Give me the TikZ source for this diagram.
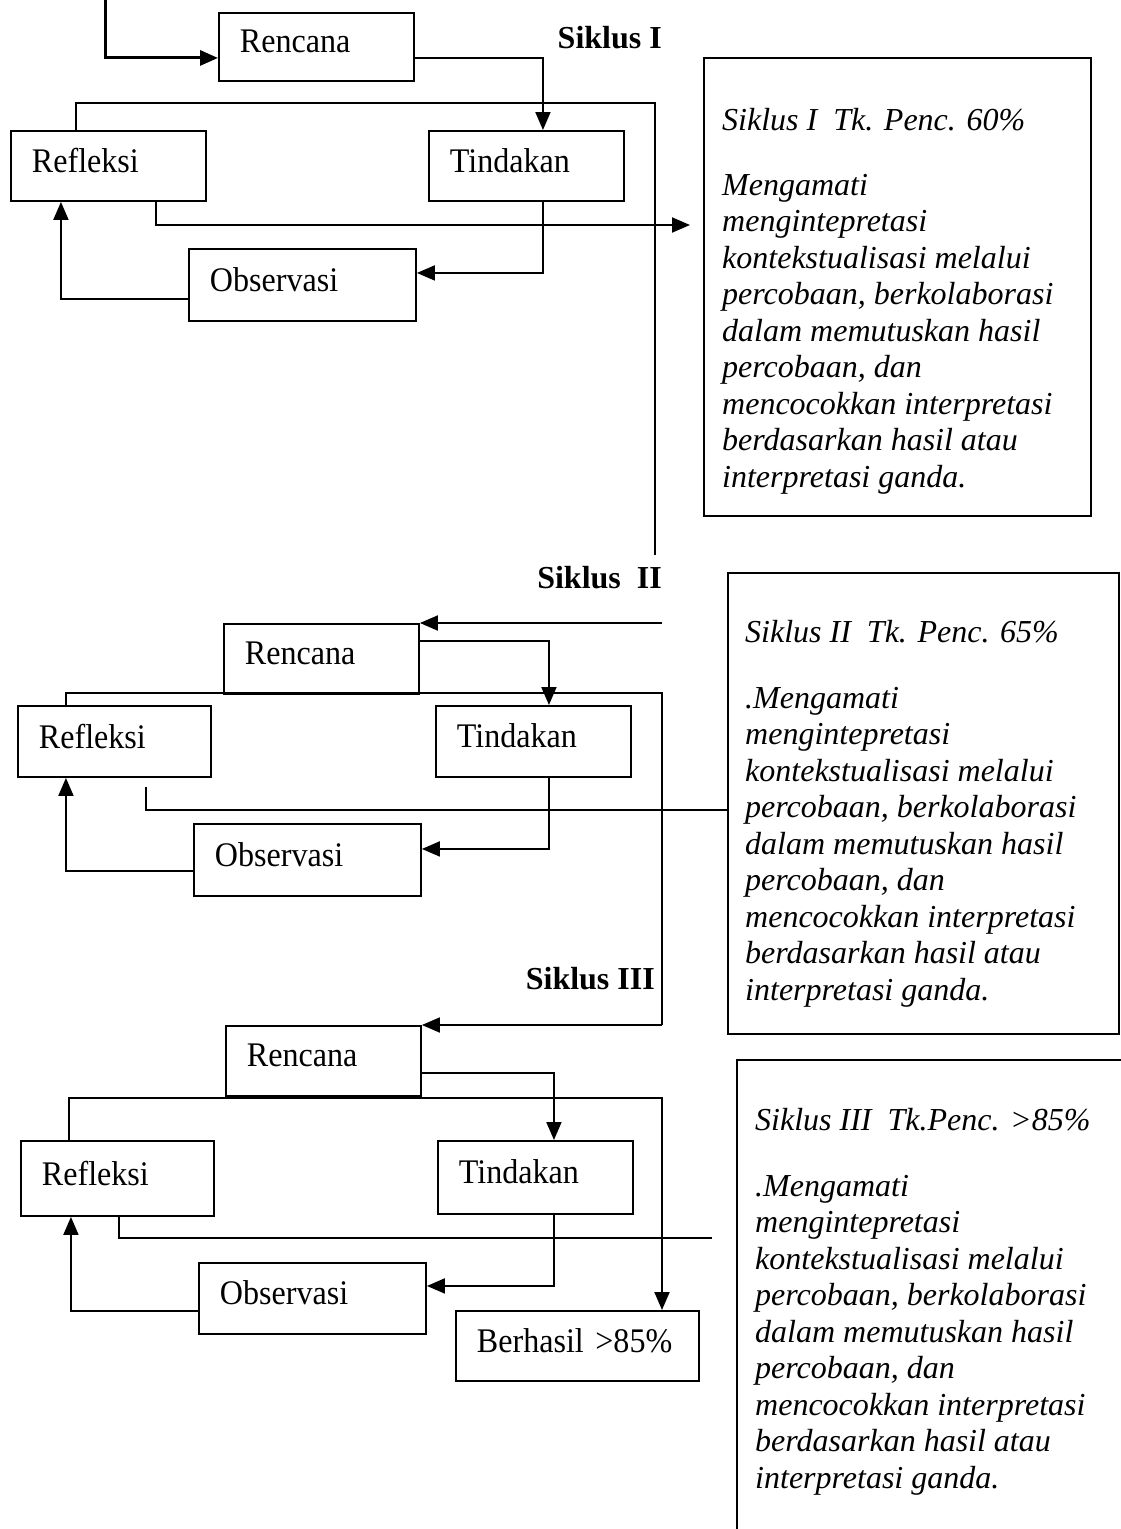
\documentclass[tikz,border=0pt]{standalone}
\usepackage{fontspec}
\setmainfont{Liberation Serif}
\newfontfamily\boxfont[FakeStretch=0.93]{Liberation Serif}
\usetikzlibrary{arrows.meta,calc}
\begin{document}
\begin{tikzpicture}[x=1pt,y=-1pt,
  every node/.style={font=\fontsize{32}{36.5}\selectfont},
  box/.style={draw, line width=1.9pt, inner xsep=21pt, inner ysep=0pt, align=left, anchor=north west,
    text depth=11pt, font=\fontsize{34.5}{38}\boxfont},
  tbox/.style={draw, line width=1.9pt, anchor=north west, inner sep=0pt},
  itext/.style={anchor=north west, inner sep=0pt, align=left, font=\fontsize{32}{36.5}\selectfont\itshape},
  lbl/.style={inner sep=0pt, font=\fontsize{32}{36.5}\selectfont\bfseries},
  conn/.style={line width=1.9pt},
  arr/.style={conn, -{Triangle[length=18pt,width=15pt]}}
]
\useasboundingbox (0,0) rectangle (1121,1529);

% ---------------- Siklus I ----------------
\node[lbl, anchor=base east] (s1) at (662,48) {Siklus I};
\node[box, text width=153pt, minimum height=68pt] (r1) at (218,12) {Rencana};
\node[box, text width=153pt, minimum height=70pt] (f1) at (10,130) {Refleksi};
\node[box, text width=153pt, minimum height=70pt] (t1) at (428,130) {Tindakan};
\node[box, text width=185pt, minimum height=72pt] (o1) at (188,248) {Observasi};
\node[tbox, minimum width=387pt, minimum height=458pt] (k1) at (703,57) {};
\node[itext] (k1t) at (722,108) {Siklus I\ \ Tk. Penc. 60\%\\[28.5pt]
Mengamati\\
mengintepretasi\\
kontekstualisasi melalui\\
percobaan, berkolaborasi\\
dalam memutuskan hasil\\
percobaan, dan\\
mencocokkan interpretasi\\
berdasarkan hasil atau\\
interpretasi ganda.};

\coordinate (in1) at (105,0);
\coordinate (c1a) at (655,103);
\coordinate (c1b) at (655,555);
\draw[arr, line width=3pt] (in1) |- ([yshift=-11pt]r1.west);
\draw[arr] ([yshift=-11pt]r1.east) -| ([xshift=16.5pt]t1.north);
\draw[conn] ([xshift=-32.5pt]f1.north) |- (c1a) -- (c1b);
\draw[arr, shorten >=13pt] ([xshift=47.5pt]f1.south) |- (k1.west |- 0,225);
\draw[arr] ([xshift=16.5pt]t1.south) |- ([yshift=12pt]o1.east);
\draw[arr] ([yshift=-14pt]o1.west) -| ([xshift=-47.5pt]f1.south);

% ---------------- Siklus II ----------------
\node[lbl, anchor=base east] (s2) at (662,588) {Siklus\ \ II};
\node[box, text width=153pt, minimum height=70pt] (r2) at (223,623) {Rencana};
\node[box, text width=151pt, minimum height=71pt] (f2) at (17,705) {Refleksi};
\node[box, text width=153pt, minimum height=71pt] (t2) at (435,705) {Tindakan};
\node[box, text width=185pt, minimum height=72pt] (o2) at (193,823) {Observasi};
\node[tbox, minimum width=391pt, minimum height=461pt] (k2) at (727,572) {};
\node[itext] (k2t) at (745,620) {Siklus II\ \ Tk. Penc. 65\%\\[29.5pt]
.Mengamati\\
mengintepretasi\\
kontekstualisasi melalui\\
percobaan, berkolaborasi\\
dalam memutuskan hasil\\
percobaan, dan\\
mencocokkan interpretasi\\
berdasarkan hasil atau\\
interpretasi ganda.};

\coordinate (in2) at (662,623);
\coordinate (c2a) at (662,693);
\coordinate (in3) at (662,1025);
\draw[arr] (in2) -- (r2.north east);
\draw[arr] ([yshift=18pt]r2.east) -| ([xshift=15.5pt]t2.north);
\draw[conn] ([xshift=-48.5pt]f2.north) |- (c2a) -- (in3);
\draw[conn, shorten <=9pt] ([xshift=31.5pt]f2.south) |- (k2.west |- 0,810);
\draw[arr] ([xshift=15.5pt]t2.south) |- ([yshift=11pt]o2.east);
\draw[arr] ([yshift=-11pt]o2.west) -| ([xshift=-48.5pt]f2.south);

% ---------------- Siklus III ----------------
\node[lbl, anchor=base east] (s3) at (655,989) {Siklus III};
\node[box, text width=153pt, minimum height=70pt] (r3) at (225,1025) {Rencana};
\node[box, text width=151pt, minimum height=75pt] (f3) at (20,1140) {Refleksi};
\node[box, text width=153pt, minimum height=73pt] (t3) at (437,1140) {Tindakan};
\node[box, text width=185pt, minimum height=71pt] (o3) at (198,1262) {Observasi};
\node[box, text width=201pt, minimum height=70pt] (bh) at (455,1310) {Berhasil >85\%};
\node[tbox, draw=none, minimum width=384pt, minimum height=469pt] (k3) at (737,1060) {};
\draw[conn] (k3.north east) -- (k3.north west) -- (k3.south west);
\node[itext] (k3t) at (755,1108) {Siklus III\ \ Tk.Penc. >85\%\\[29.5pt]
.Mengamati\\
mengintepretasi\\
kontekstualisasi melalui\\
percobaan, berkolaborasi\\
dalam memutuskan hasil\\
percobaan, dan\\
mencocokkan interpretasi\\
berdasarkan hasil atau\\
interpretasi ganda.};

\coordinate (c3a) at (662,1098);
\coordinate (e3) at (712,1238);
\draw[arr] (in3) -- (r3.north east);
\draw[arr] ([yshift=-12pt]r3.east) -| ([xshift=18.5pt]t3.north);
\draw[arr] ([xshift=-48.5pt]f3.north) |- (c3a) -- (c3a |- bh.north);
\draw[conn] ([xshift=1.5pt]f3.south) |- (e3);
\draw[arr] ([xshift=18.5pt]t3.south) |- ([yshift=12.5pt]o3.east);
\draw[arr] ([yshift=-12.5pt]o3.west) -| ([xshift=-46.5pt]f3.south);
\end{tikzpicture}
\end{document}
